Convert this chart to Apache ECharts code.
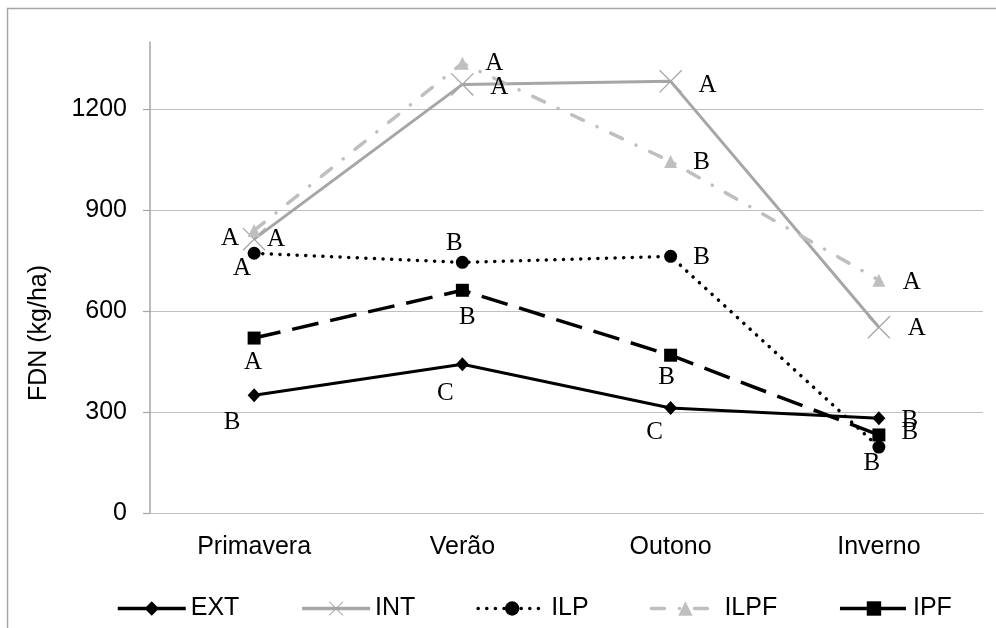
<!DOCTYPE html>
<html>
<head>
<meta charset="utf-8">
<script src="https://cdn.jsdelivr.net/npm/echarts@6/dist/echarts.min.js"></script>
<style>html,body{margin:0;padding:0;background:#fff}#c{width:996px;height:628px}</style>
</head>
<body>
<div id="c"></div>
<script>
var categories = ['Primavera', 'Verão', 'Outono', 'Inverno'];
var yTicks = [0, 300, 600, 900, 1200];
var extValues = [350, 442, 312, 282];
var intValues = [814, 1274, 1283, 552];
var ilpValues = [772, 745, 763, 196];
var ilpfValues = [840, 1337, 1045, 692];
var ipfValues = [520, 662, 469, 232];
var extLetters = ['B', 'C', 'C', 'B'];
var intLetters = ['A', 'A', 'A', 'A'];
var ilpLetters = ['A', 'B', 'B', 'B'];
var ilpfLetters = ['A', 'A', 'B', 'A'];
var ipfLetters = ['A', 'B', 'B', 'B'];

var SANS = "'Liberation Sans', Arial, sans-serif";
var SERIF = "'Liberation Serif', 'Times New Roman', serif";
var crossPath = 'path://M0,4L4,0L100,96L96,100Z M96,0L100,4L4,100L0,96Z';

function build(values, letters, offsets) {
  return values.map(function (v, i) {
    return {
      value: v,
      label: {
        show: true,
        position: 'inside',
        offset: offsets[i],
        formatter: letters[i],
        fontFamily: SERIF,
        fontSize: 25,
        color: '#000',
        align: 'center',
        verticalAlign: 'middle'
      }
    };
  });
}

var chart = echarts.init(document.getElementById('c'), null, {renderer: 'canvas'});
chart.setOption({
  animation: false,
  backgroundColor: '#fff',
  graphic: [{
    type: 'rect',
    shape: {x: 7.5, y: 8.5, width: 1200, height: 800},
    style: {fill: 'none', stroke: '#a6a6a6', lineWidth: 1.5},
    silent: true
  }],
  grid: {left: 150, right: 13, top: 42, bottom: 115},
  legend: {
    left: 111,
    top: 591,
    itemWidth: 68,
    itemHeight: 18,
    itemGap: 61,
    lineStyle: {width: 3.5},
    textStyle: {fontFamily: SANS, fontSize: 25, color: '#000'},
    data: ['EXT', 'INT', 'ILP', 'ILPF', 'IPF']
  },
  xAxis: {
    type: 'category',
    data: categories,
    boundaryGap: true,
    axisLine: {lineStyle: {color: '#bfbfbf', width: 1}},
    axisTick: {show: false},
    axisLabel: {fontFamily: SANS, fontSize: 25, color: '#000', margin: 22}
  },
  yAxis: {
    type: 'value',
    min: 0,
    max: 1400,
    interval: 300,
    name: 'FDN (kg/ha)',
    nameLocation: 'middle',
    nameRotate: 90,
    nameGap: 98,
    nameTextStyle: {fontFamily: SANS, fontSize: 25, color: '#000', padding: [0, 111, 0, 0]},
    axisLine: {show: true, lineStyle: {color: '#a6a6a6', width: 1.5}},
    axisTick: {show: true, inside: false, length: 7, lineStyle: {color: '#a6a6a6', width: 1.2}, customValues: yTicks},
    axisLabel: {fontFamily: SANS, fontSize: 25, color: '#000', margin: 23, customValues: yTicks,
      formatter: function (v) { return String(v); }},
    splitLine: {show: true, lineStyle: {color: '#bfbfbf', width: 1.2}}
  },
  series: [
    {
      name: 'EXT', type: 'line',
      data: build(extValues, extLetters, [[-22, 27], [-17, 29], [-16, 24], [31, 2]]),
      symbol: 'diamond', symbolSize: [13, 14],
      lineStyle: {color: '#000', width: 3},
      itemStyle: {color: '#000', borderWidth: 0}
    },
    {
      name: 'INT', type: 'line',
      data: build(intValues, intLetters, [[22, 0], [37, 3], [37, 4], [38, 1]]),
      symbol: crossPath, symbolSize: 23,
      lineStyle: {color: '#a6a6a6', width: 3},
      itemStyle: {color: '#a6a6a6', borderWidth: 0}
    },
    {
      name: 'ILP', type: 'line',
      data: build(ilpValues, ilpLetters, [[-12, 15], [-8, -19], [31, 1], [-7, 16]]),
      symbol: 'circle', symbolSize: 13,
      lineStyle: {color: '#000', width: 3.5, type: [0.1, 8.5], cap: 'round'},
      itemStyle: {color: '#000', borderWidth: 0}
    },
    {
      name: 'ILPF', type: 'line',
      data: build(ilpfValues, ilpfLetters, [[-24, 8], [32, 0], [31, 1], [33, 2]]),
      symbol: 'triangle', symbolSize: 13,
      lineStyle: {color: '#bfbfbf', width: 3.5, type: [13, 15, 0.1, 15], cap: 'round'},
      itemStyle: {color: '#bfbfbf', borderWidth: 0}
    },
    {
      name: 'IPF', type: 'line',
      data: build(ipfValues, ipfLetters, [[-1, 24], [5, 27], [-4, 22], [31, -3]]),
      symbol: 'rect', symbolSize: 13,
      lineStyle: {color: '#000', width: 3.5, type: [27, 12]},
      itemStyle: {color: '#000', borderWidth: 0}
    }
  ]
});
</script>
</body>
</html>
